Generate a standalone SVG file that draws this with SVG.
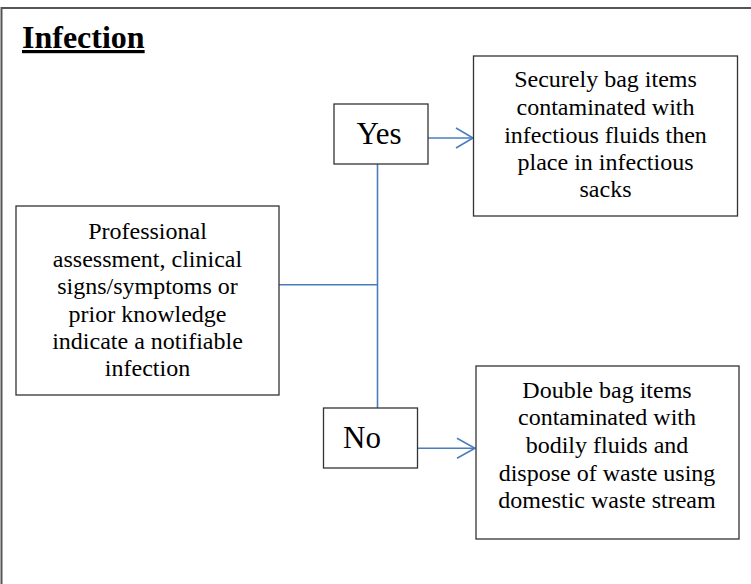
<svg xmlns="http://www.w3.org/2000/svg" width="751" height="584" viewBox="0 0 751 584">
<style>
.box{fill:#fff;stroke:#333;stroke-width:1.3}
.t{font-family:"Liberation Serif","Times New Roman",serif;font-size:24px;fill:#000;text-anchor:middle}
.lbl{font-family:"Liberation Serif","Times New Roman",serif;font-size:31px;fill:#000}
.c{fill:none;stroke:#4a7ebb;stroke-width:1.6}
</style>
<rect width="751" height="584" fill="#fff"/>
<path d="M1.5,584 V8 H751" fill="none" stroke="#555" stroke-width="2"/>
<text x="22" y="48" font-family="Liberation Serif,Times New Roman,serif" font-size="32" font-weight="bold" text-decoration="underline">Infection</text>
<g id="connectors">
<line class="c" x1="377.5" y1="164" x2="377.5" y2="408"/>
<line class="c" x1="279" y1="284.7" x2="377.5" y2="284.7"/>
<line class="c" x1="428" y1="138" x2="473" y2="138"/>
<polyline class="c" points="456,128 473,138 456,148"/>
<line class="c" x1="418" y1="448.3" x2="475" y2="448.3"/>
<polyline class="c" points="457,438.3 475,448.3 457,458.3"/>
</g>
<g id="start">
<rect class="box" x="16" y="206" width="263" height="189"/>
<text class="t" x="147.5" y="239">Professional</text>
<text class="t" x="147.5" y="266.5">assessment, clinical</text>
<text class="t" x="147.5" y="294">signs/symptoms or</text>
<text class="t" x="147.5" y="321.5">prior knowledge</text>
<text class="t" x="147.5" y="349">indicate a notifiable</text>
<text class="t" x="147.5" y="376">infection</text>
</g>
<g id="yes">
<rect class="box" x="334" y="104" width="94" height="60"/>
<text class="lbl" x="379" y="144" text-anchor="middle">Yes</text>
</g>
<g id="no">
<rect class="box" x="323.5" y="408" width="94" height="60"/>
<text class="lbl" x="343" y="448">No</text>
</g>
<g id="infectious">
<rect class="box" x="473.5" y="56" width="264" height="160"/>
<text class="t" x="605.5" y="87.3">Securely bag items</text>
<text class="t" x="605.5" y="115">contaminated with</text>
<text class="t" x="605.5" y="142.5">infectious fluids then</text>
<text class="t" x="605.5" y="170">place in infectious</text>
<text class="t" x="605.5" y="197">sacks</text>
</g>
<g id="domestic">
<rect class="box" x="476" y="366" width="263" height="173"/>
<text class="t" x="607" y="397.7">Double bag items</text>
<text class="t" x="607" y="425">contaminated with</text>
<text class="t" x="607" y="453">bodily fluids and</text>
<text class="t" x="607" y="480.5">dispose of waste using</text>
<text class="t" x="607" y="508">domestic waste stream</text>
</g>
</svg>
